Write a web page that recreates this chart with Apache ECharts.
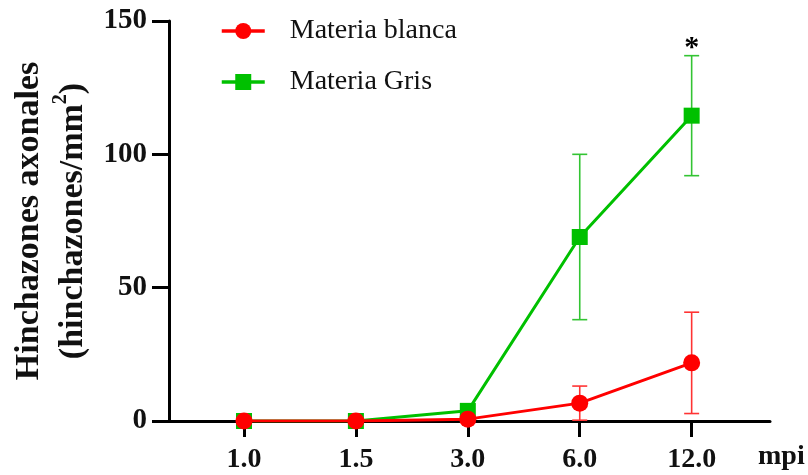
<!DOCTYPE html>
<html>
<head>
<meta charset="utf-8">
<script src="https://cdn.jsdelivr.net/npm/echarts@6/dist/echarts.min.js"></script>
<style>html,body{margin:0;padding:0;background:#fff}#c{width:808px;height:475px}</style>
</head>
<body>
<div id="c"></div>
<script>
// ---- data ----
const categories = ['1.0', '1.5', '3.0', '6.0', '12.0'];
const blancaMean = [0, 0, 0.7, 6.7, 21.8];
const blancaErr  = [0, 0, 0, 6.4, 19.0];
const grisMean   = [0, 0, 3.8, 69.0, 114.5];
const grisErr    = [0, 0, 0, 31.0, 22.5];
const grisSig    = ['', '', '', '', '*'];
const yTicks     = [0, 50, 100, 150];
const seriesNames = ['Materia blanca', 'Materia Gris'];

const RED = '#ff0000', RED_ERR = '#ff3333';
const GREEN = '#00c000', GREEN_ERR = '#33c433';
const FONT = '"Liberation Serif", "Times New Roman", serif';

const idx = categories.map((c, i) => i);
const pts = (arr) => idx.map(i => [i, arr[i]]);
const errData = (m, e) => idx.filter(i => e[i] > 0).map(i => [i, m[i] - e[i], m[i] + e[i]]);

function errRender(color, sig) {
  return function (params, api) {
    const x = api.value(0);
    const lo = api.coord([x, api.value(1)]);
    const hi = api.coord([x, api.value(2)]);
    const hw = 7.5;
    const st = { stroke: color, lineWidth: 1.6 };
    const children = [
      { type: 'line', shape: { x1: lo[0], y1: lo[1], x2: hi[0], y2: hi[1] }, style: st },
      { type: 'line', shape: { x1: lo[0] - hw, y1: lo[1], x2: lo[0] + hw, y2: lo[1] }, style: st },
      { type: 'line', shape: { x1: hi[0] - hw, y1: hi[1], x2: hi[0] + hw, y2: hi[1] }, style: st }
    ];
    if (sig && sig[x]) {
      children.push({ type: 'text', style: { text: sig[x], x: hi[0], y: hi[1] + 8, align: 'center', verticalAlign: 'bottom', font: 'bold 30px ' + FONT, fill: '#000' } });
    }
    return { type: 'group', children };
  };
}

const chart = echarts.init(document.getElementById('c'), null, { renderer: 'canvas' });
chart.setOption({
  animation: false,
  backgroundColor: '#fff',
  textStyle: { fontFamily: FONT },
  grid: { left: 169, right: 38, top: 21, bottom: 54, containLabel: false },
  legend: {
    data: seriesNames,
    orient: 'vertical',
    left: 215, top: 12,
    itemWidth: 43, itemHeight: 20, itemGap: 23,
    lineStyle: { width: 3.5 },
    textStyle: { fontFamily: FONT, fontSize: 28, color: '#111', padding: [0, 0, 0, 20] }
  },
  xAxis: {
    type: 'value', min: -0.67, max: 4.70,
    name: 'mpi', nameLocation: 'end', nameGap: -12,
    nameTextStyle: { fontFamily: FONT, fontSize: 28, fontWeight: 'bold', color: '#111', verticalAlign: 'top', padding: [22, 0, 0, 0] },
    axisLine: { show: true, onZero: false, lineStyle: { color: '#000', width: 3 } },
    axisTick: { show: true, customValues: idx, length: 16, lineStyle: { color: '#000', width: 3 } },
    axisLabel: { customValues: idx, formatter: v => categories[Math.round(v)], fontFamily: FONT, fontSize: 28, fontWeight: 'bold', color: '#111', margin: 25 },
    splitLine: { show: false }
  },
  yAxis: {
    type: 'value', min: 0, max: 150, interval: 50,
    name: '{a|Hinchazones axonales}\n{a|(hinchazones/mm}{s|2}{a|)}',
    nameLocation: 'middle', nameRotate: 90, nameGap: 74,
    nameTextStyle: {
      rich: {
        a: { fontFamily: FONT, fontSize: 34, fontWeight: 'bold', color: '#111', lineHeight: 44 },
        s: { fontFamily: FONT, fontSize: 20, fontWeight: 'bold', color: '#111', verticalAlign: 'top', lineHeight: 44 }
      }
    },
    axisLine: { show: true, onZero: false, lineStyle: { color: '#000', width: 3 } },
    axisTick: { show: true, length: 17, lineStyle: { color: '#000', width: 3 } },
    axisLabel: { fontFamily: FONT, fontSize: 29, fontWeight: 'bold', color: '#111', margin: 22, formatter: v => yTicks.includes(v) ? String(v) : '' },
    splitLine: { show: false }
  },
  series: [
    { type: 'custom', name: 'errG', renderItem: errRender(GREEN_ERR, grisSig), data: errData(grisMean, grisErr), z: 2, silent: true },
    { type: 'custom', name: 'errR', renderItem: errRender(RED_ERR, null), data: errData(blancaMean, blancaErr), z: 2, silent: true },
    { type: 'line', name: seriesNames[1], data: pts(grisMean), symbol: 'rect', symbolSize: 16, color: GREEN,
      lineStyle: { width: 3, color: GREEN }, itemStyle: { color: GREEN }, z: 3 },
    { type: 'line', name: seriesNames[0], data: pts(blancaMean), symbol: 'circle', symbolSize: 17, color: RED,
      lineStyle: { width: 3, color: RED }, itemStyle: { color: RED }, z: 4 }
  ]
});
</script>
</body>
</html>
